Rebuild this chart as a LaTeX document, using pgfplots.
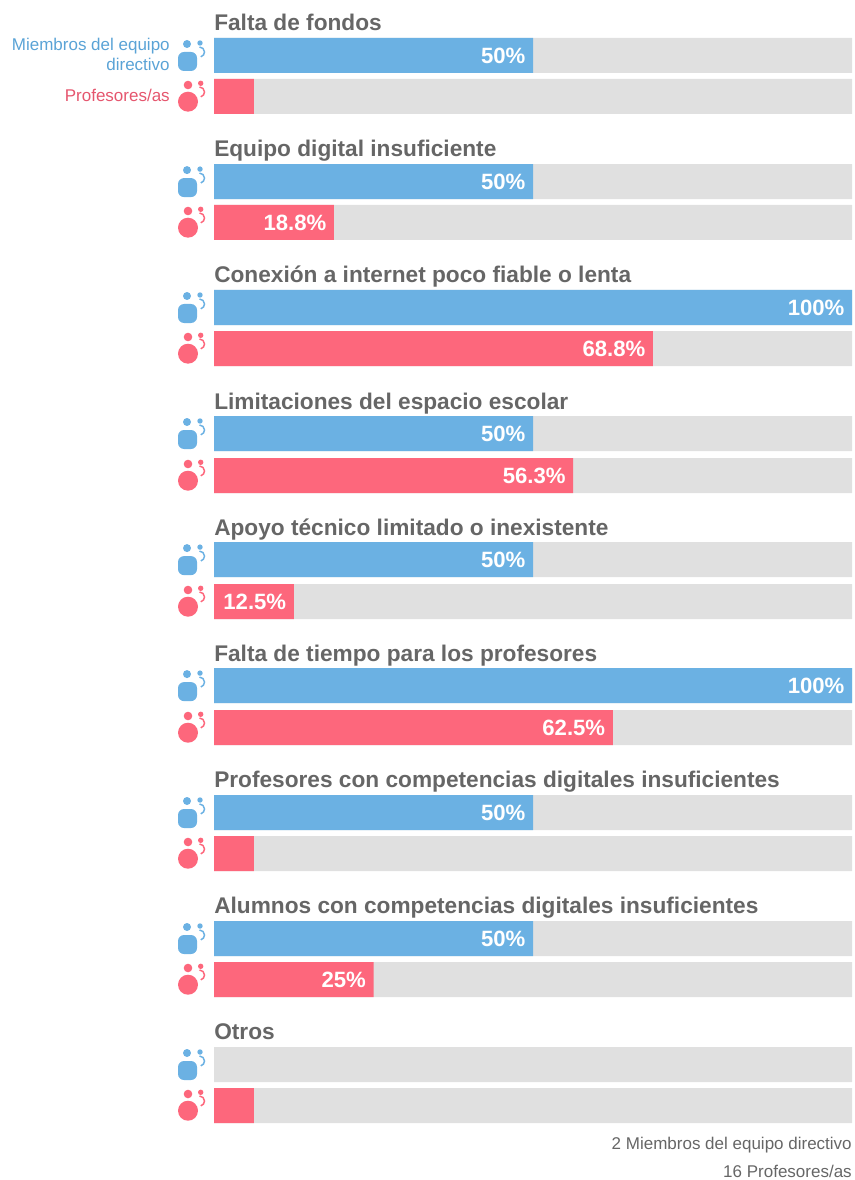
\documentclass[border=0pt]{standalone}
\usepackage{fontspec}
\setmainfont{Liberation Sans}
\usepackage{pgfplots}
\usepackage{pgfplotstable}
\pgfplotsset{compat=1.18}

\definecolor{bluebar}{HTML}{6BB1E3}
\definecolor{redbar}{HTML}{FD677C}
\definecolor{greybar}{HTML}{E0E0E0}
\definecolor{titlegrey}{HTML}{666666}
\definecolor{bluetext}{HTML}{5AA3D6}
\definecolor{redtext}{HTML}{E5566E}

% y is the bar centre in image pixels
\pgfplotstableread{
y value
55.5 50
181.6 50
307.5 100
433.5 50
559.6 50
685.6 100
812.5 50
938.5 50
}\directivos
\pgfplotstableread{
y value
222.5 18.8
348.5 68.8
475.5 56.3
601.5 12.5
727.5 62.5
979.5 25
}\profesores
% small bars without a printed value
\pgfplotstableread{
y value
96.5 6.25
853.5 6.25
1105.5 6.25
}\profesoressmall
% all rows, for the grey tracks and the icons
\pgfplotstableread{
y value
55.5 100
181.6 100
307.5 100
433.5 100
559.6 100
685.6 100
812.5 100
938.5 100
1064.5 100
}\trackblue
\pgfplotstableread{
y value
96.5 100
222.5 100
348.5 100
475.5 100
601.5 100
727.5 100
853.5 100
979.5 100
1105.5 100
}\trackred

% icons, drawn in image pixels around the plotted point
\pgfdeclareplotmark{iconblue}{%
  \pgftransformscale{0.75}%
  \pgfsetlinewidth{1.1pt}%
  \pgfpathmoveto{\pgfpoint{-8pt}{3.5pt}}%
  \pgfpathlineto{\pgfpoint{-1pt}{3.5pt}}%
  \pgfpatharc{90}{0}{6pt}%
  \pgfpathlineto{\pgfpoint{5pt}{-9.5pt}}%
  \pgfpatharc{0}{-90}{6pt}%
  \pgfpathlineto{\pgfpoint{-8pt}{-15.5pt}}%
  \pgfpatharc{-90}{-180}{6pt}%
  \pgfpathlineto{\pgfpoint{-14pt}{-2.5pt}}%
  \pgfpatharc{180}{90}{6pt}%
  \pgfpathclose
  \pgfusepathqfill
  \pgfpathcircle{\pgfpoint{-5pt}{11.5pt}}{4pt}%
  \pgfpathcircle{\pgfpoint{8pt}{12.5pt}}{2.7pt}%
  \pgfusepathqfill
  \pgfpathmoveto{\pgfpoint{7.5pt}{8.5pt}}%
  \pgfpatharc{90}{-75}{5pt}%
  \pgfusepathqstroke
}
\pgfdeclareplotmark{iconred}{%
  \pgftransformscale{0.75}%
  \pgfsetlinewidth{1.1pt}%
  \pgfpathcircle{\pgfpoint{-4pt}{-5.2pt}}{10pt}%
  \pgfpathcircle{\pgfpoint{-4pt}{11.5pt}}{4.3pt}%
  \pgfpathcircle{\pgfpoint{8.7pt}{13.2pt}}{2.7pt}%
  \pgfusepathqfill
  \pgfpathmoveto{\pgfpoint{7.5pt}{9.5pt}}%
  \pgfpatharc{90}{-75}{5pt}%
  \pgfusepathqstroke
}

\pgfplotsset{
    hbar/.style={xbar, bar shift=0pt, bar width=26.25pt, draw=none},
    valuelabels/.style={point meta=x,
        nodes near coords={\pgfmathprintnumber{\pgfplotspointmeta}\%},
        nodes near coords style={anchor=east, inner sep=0pt, xshift=-5.5pt, text=white, font=\fontsize{16.6}{16.6}\selectfont\bfseries}},
}

\begin{document}
\begin{tikzpicture}
\begin{axis}[
    name=chart,
    scale only axis,
    width=640.5pt,
    height=885pt,
    xmin=-33.542, xmax=100.313,
    ymin=0, ymax=1180,
    y dir=reverse,
    axis lines=none,
    clip=false,
    /pgf/number format/assume math mode=true,
    /pgf/number format/fixed,
    /pgf/number format/precision=1,
]
% grey tracks
\addplot[hbar, fill=greybar] table[x=value, y=y] {\trackblue};
\addplot[hbar, fill=greybar] table[x=value, y=y] {\trackred};

% bars with values
\addplot[hbar, fill=bluebar, valuelabels] table[x=value, y=y] {\directivos};
\addplot[hbar, fill=redbar, valuelabels] table[x=value, y=y] {\profesores};
\addplot[hbar, fill=redbar] table[x=value, y=y] {\profesoressmall};

% icons
\addplot[only marks, mark=iconblue, color=bluebar] table[x expr=-3.448, y=y] {\trackblue};
\addplot[only marks, mark=iconred, color=redbar] table[x expr=-3.448, y=y] {\trackred};

% row titles
\tikzset{rowtitle/.style={anchor=base west, inner sep=0pt, text=titlegrey, font=\fontsize{17}{17}\selectfont\bfseries}}
\node[rowtitle] at (axis cs:0,31) {Falta de fondos};
\node[rowtitle] at (axis cs:0,157) {Equipo digital insuficiente};
\node[rowtitle] at (axis cs:0,283) {Conexión a internet poco fiable o lenta};
\node[rowtitle] at (axis cs:0,409) {Limitaciones del espacio escolar};
\node[rowtitle] at (axis cs:0,535) {Apoyo técnico limitado o inexistente};
\node[rowtitle] at (axis cs:0,661) {Falta de tiempo para los profesores};
\node[rowtitle] at (axis cs:0,787) {Profesores con competencias digitales insuficientes};
\node[rowtitle] at (axis cs:0,913) {Alumnos con competencias digitales insuficientes};
\node[rowtitle] at (axis cs:0,1039) {Otros};

% series labels
\tikzset{serieslabel/.style={anchor=base east, inner sep=0pt, font=\fontsize{12.75}{12.75}\selectfont}}
\node[serieslabel, text=bluetext] at (axis cs:-6.9,51) {Miembros del equipo};
\node[serieslabel, text=bluetext] at (axis cs:-6.9,71) {directivo};
\node[serieslabel, text=redtext] at (axis cs:-6.9,102) {Profesores/as};

% respondents
\node[serieslabel, text=titlegrey] at (axis cs:100,1149) {2 Miembros del equipo directivo};
\node[serieslabel, text=titlegrey] at (axis cs:100,1177) {16 Profesores/as};
\end{axis}
\pgfresetboundingbox
\path[use as bounding box] (chart.south west) rectangle (chart.north east);
\end{tikzpicture}
\end{document}
